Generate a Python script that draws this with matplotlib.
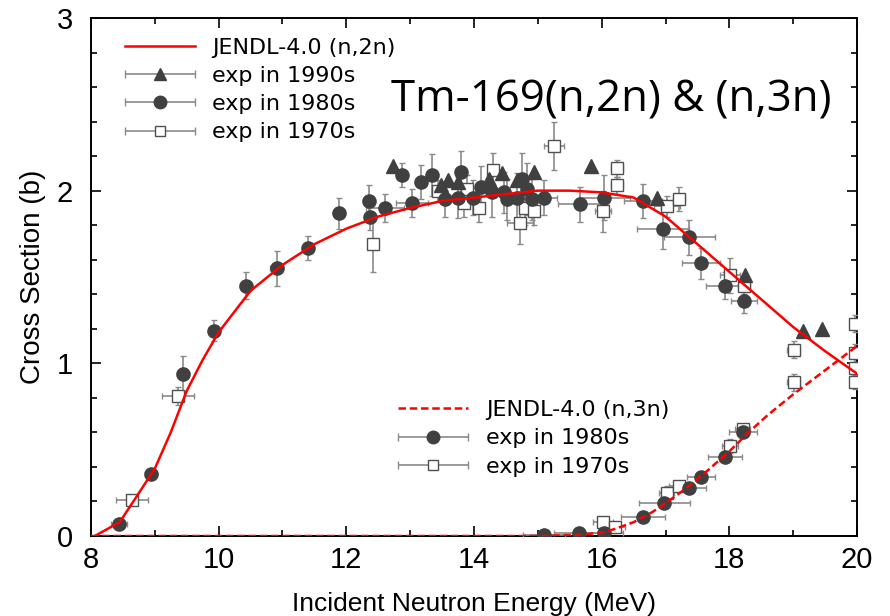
import numpy as np
import matplotlib
matplotlib.use("Agg")
import matplotlib.pyplot as plt
from matplotlib.ticker import MultipleLocator
from matplotlib.container import ErrorbarContainer
from matplotlib.legend_handler import HandlerErrorbar

plt.rcParams['font.family'] = ['Liberation Sans', 'DejaVu Sans']

# JENDL-4.0 evaluated curves
n2n_E = [8.06, 8.45, 8.7, 9.0, 9.25, 9.5, 9.75, 10.0, 10.5, 11.0, 11.5, 12.0, 12.5, 13.0,
         13.5, 14.0, 14.5, 15.0, 15.5, 16.0, 16.5, 17.0, 17.5, 18.0, 18.5, 19.0, 19.5, 20.0]
n2n_S = [0.0, 0.08, 0.22, 0.39, 0.60, 0.84, 1.02, 1.18, 1.42, 1.57, 1.69, 1.78, 1.85, 1.90,
         1.94, 1.96, 1.98, 2.00, 2.00, 1.99, 1.96, 1.85, 1.69, 1.53, 1.37, 1.21, 1.07, 0.94]
n3n_E = [8.0, 15.0, 15.5, 15.8, 16.0, 16.2, 16.5, 16.8, 17.0, 17.3, 17.6, 18.0, 18.3, 18.6, 19.0, 19.5, 20.0]
n3n_S = [0.0, 0.0, 0.005, 0.012, 0.02, 0.04, 0.08, 0.14, 0.19, 0.27, 0.36, 0.49, 0.60, 0.70, 0.82, 0.96, 1.10]

# (n,2n) experiments
e90_E = [12.73, 13.48, 13.59, 13.75, 14.24, 14.44, 14.67, 14.94, 15.83, 16.87, 18.25, 19.15, 19.45]
e90_S = [2.14, 2.03, 2.06, 2.05, 2.07, 2.10, 2.06, 2.11, 2.14, 1.96, 1.51, 1.19, 1.20]

e80_E = [8.44, 8.94, 9.44, 9.93, 10.43, 10.91, 11.40, 11.89, 12.36, 12.37, 12.61, 12.87, 13.03,
         13.17, 13.34, 13.55, 13.75, 13.80, 13.98, 14.11, 14.28, 14.47, 14.52, 14.67, 14.75,
         14.83, 14.91, 15.10, 15.66, 16.04, 16.65, 16.96, 17.37, 17.56, 17.93, 18.23]
e80_S = [0.07, 0.36, 0.94, 1.19, 1.45, 1.55, 1.67, 1.87, 1.94, 1.85, 1.90, 2.09, 1.93,
         2.05, 2.09, 1.95, 1.96, 2.11, 1.96, 2.02, 1.99, 1.99, 1.95, 1.96, 2.07,
         2.01, 1.95, 1.96, 1.92, 1.96, 1.94, 1.78, 1.73, 1.58, 1.45, 1.36]
e80_dE = [0.13, 0.10, 0.10, 0.06, 0.10, 0.10, 0.06, 0.06, 0.05, 0.06, 0.30, 0.05, 0.25,
          0.05, 0.05, 0.05, 0.05, 0.05, 0.05, 0.05, 0.05, 0.05, 0.05, 0.05, 0.05,
          0.05, 0.05, 0.20, 0.35, 0.40, 0.30, 0.40, 0.40, 0.30, 0.30, 0.20]
e80_dS = [0.02, 0.02, 0.10, 0.06, 0.08, 0.10, 0.07, 0.09, 0.09, 0.08, 0.08, 0.07, 0.08,
          0.10, 0.12, 0.10, 0.12, 0.12, 0.10, 0.12, 0.14, 0.12, 0.12, 0.14, 0.15,
          0.15, 0.12, 0.10, 0.10, 0.13, 0.10, 0.12, 0.10, 0.09, 0.08, 0.07]

e70_E = [8.64, 9.36, 12.42, 13.44, 13.84, 13.89, 14.08, 14.30, 14.72, 14.80, 14.94, 15.25,
         16.02, 16.24, 16.24, 17.02, 17.21, 18.01, 18.23, 19.01, 19.01, 19.97, 19.97, 19.97, 19.97]
e70_S = [0.21, 0.81, 1.69, 2.00, 1.93, 2.01, 1.90, 2.12, 1.81, 1.90, 1.88, 2.26,
         1.88, 2.13, 2.03, 1.91, 1.95, 1.51, 1.45, 1.08, 0.89, 1.23, 1.06, 0.97, 0.89]
e70_dE = [0.25, 0.25, 0.03, 0.10, 0.08, 0.08, 0.08, 0.08, 0.20, 0.10, 0.08, 0.16,
          0.12, 0.10, 0.10, 0.20, 0.10, 0.15, 0.10, 0.10, 0.10, 0.05, 0.05, 0.05, 0.05]
e70_dS = [0.02, 0.05, 0.16, 0.06, 0.08, 0.08, 0.08, 0.10, 0.12, 0.10, 0.08, 0.14,
          0.12, 0.05, 0.05, 0.06, 0.07, 0.10, 0.05, 0.05, 0.05, 0.05, 0.05, 0.04, 0.04]

# (n,3n) experiments
t80_E = [15.10, 15.65, 16.04, 16.65, 16.98, 17.37, 17.56, 17.93, 18.21]
t80_S = [0.006, 0.016, 0.02, 0.11, 0.19, 0.28, 0.34, 0.46, 0.60]
t80_dE = [0.33, 0.40, 0.30, 0.34, 0.40, 0.26, 0.22, 0.27, 0.22]
t80_dS = [0.01, 0.01, 0.01, 0.01, 0.01, 0.01, 0.02, 0.02, 0.02]

t70_E = [16.02, 16.21, 17.02, 17.21, 18.01, 18.21]
t70_S = [0.08, 0.05, 0.25, 0.29, 0.52, 0.62]
t70_dE = [0.15, 0.15, 0.12, 0.15, 0.12, 0.12]
t70_dS = [0.03, 0.03, 0.04, 0.03, 0.04, 0.03]

dark = '#404040'
ecol = '#8a8a8a'

fig = plt.figure(figsize=(8.9, 6.16), dpi=100)
ax = fig.add_axes([0.1022, 0.1299, 0.8608, 0.8409])

eb_kw = dict(ecolor=ecol, elinewidth=1.2, capsize=2.5, capthick=1.0, linestyle='none', zorder=3)

ax.errorbar(e70_E, e70_S, xerr=e70_dE, yerr=e70_dS, fmt='s', ms=8, mfc='white',
            mec='#505050', mew=1.0, **eb_kw)
ax.errorbar(e80_E, e80_S, xerr=e80_dE, yerr=e80_dS, fmt='o', ms=9.5, mfc=dark,
            mec=dark, **eb_kw)
ax.errorbar(e90_E, e90_S, fmt='^', ms=9.5, mfc=dark, mec=dark, **eb_kw)

ax.errorbar(t70_E, t70_S, xerr=t70_dE, yerr=t70_dS, fmt='s', ms=8, mfc='white',
            mec='#505050', mew=1.0, **eb_kw)
ax.errorbar(t80_E, t80_S, xerr=t80_dE, yerr=t80_dS, fmt='o', ms=9.5, mfc=dark,
            mec=dark, **eb_kw)

l2n, = ax.plot(n2n_E, n2n_S, color='#ff0000', lw=1.8, zorder=4)
l3n, = ax.plot(n3n_E, n3n_S, color='#ff0000', lw=1.8, ls=(0, (3, 1.5)), zorder=4)

# legend proxies
lkw = dict(ecolor=ecol, elinewidth=1.2, capsize=3, capthick=1.0, linestyle='none')
p90 = ax.errorbar([np.nan], [np.nan], xerr=[1], fmt='^', ms=9, mfc=dark, mec=dark, **lkw)
p80 = ax.errorbar([np.nan], [np.nan], xerr=[1], fmt='o', ms=9, mfc=dark, mec=dark, **lkw)
p70 = ax.errorbar([np.nan], [np.nan], xerr=[1], fmt='s', ms=7, mfc='white', mec='#505050', mew=1.0, **lkw)

hl = 3.15
hmap = {ErrorbarContainer: HandlerErrorbar(xerr_size=hl / 2.0)}
legfont = dict(family=['DejaVu Sans'], size=16)

leg1 = ax.legend([l2n, p90, p80, p70],
                 ['JENDL-4.0 (n,2n)', 'exp in 1990s', 'exp in 1980s', 'exp in 1970s'],
                 loc='upper left', bbox_to_anchor=(0.044, 0.962), frameon=False,
                 prop=legfont, handlelength=hl, handletextpad=0.8, labelspacing=0.37,
                 borderaxespad=0, borderpad=0, handler_map=hmap)
ax.add_artist(leg1)
ax.legend([l3n, p80, p70], ['JENDL-4.0 (n,3n)', 'exp in 1980s', 'exp in 1970s'],
          loc='upper left', bbox_to_anchor=(0.401, 0.262), frameon=False,
          prop=legfont, handlelength=hl, handletextpad=0.8, labelspacing=0.37,
          borderaxespad=0, borderpad=0, handler_map=hmap)

ax.text(0.679, 0.842, 'Tm-169(n,2n) & (n,3n)', transform=ax.transAxes, fontsize=31.5,
        family=['Open Sans', 'DejaVu Sans'], ha='center', va='center', color='black')

ax.set_xlim(8, 20)
ax.set_ylim(0, 3)
ax.xaxis.set_major_locator(MultipleLocator(2))
ax.xaxis.set_minor_locator(MultipleLocator(1))
ax.yaxis.set_major_locator(MultipleLocator(1))
ax.yaxis.set_minor_locator(MultipleLocator(0.2))
ax.tick_params(which='both', direction='in', top=True, right=True, width=1.2)
ax.tick_params(which='major', length=7)
ax.tick_params(which='minor', length=4)
ax.tick_params(axis='x', pad=7)
ax.tick_params(axis='y', pad=13)
tickfam = ['Liberation Sans Narrow', 'Liberation Sans']
for lab in ax.get_xticklabels() + ax.get_yticklabels():
    lab.set_family(tickfam)
    lab.set_fontsize(21)
for s in ax.spines.values():
    s.set_linewidth(1.4)

ax.set_xlabel('Incident Neutron Energy (MeV)', fontsize=19, labelpad=13)
ax.set_ylabel('Cross Section (b)', fontsize=20, labelpad=8)

fig.savefig('out.png', dpi=100)
